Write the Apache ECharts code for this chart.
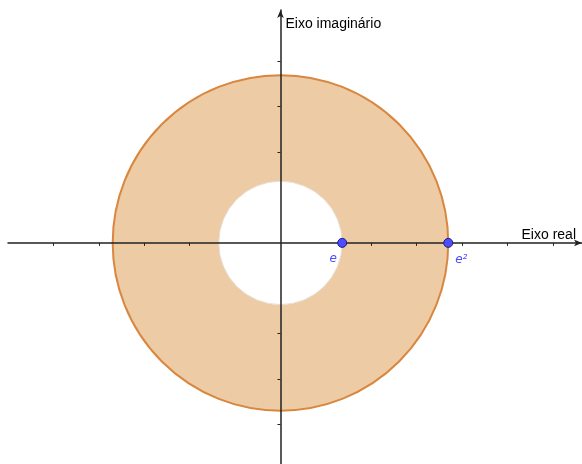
<!DOCTYPE html>
<html lang="pt" style="height: 100%">
<head>
  <meta charset="utf-8">
</head>
<body style="height: 100%; margin: 0; background: #fff">
  <div id="container" style="width: 582px; height: 464px"></div>

  <script type="text/javascript" src="https://fastly.jsdelivr.net/npm/echarts@6/dist/echarts.min.js"></script>

  <script type="text/javascript">
    // annulus e < |z| < e^2 on the complex plane
    var innerR = Math.E;
    var outerR = Math.E * Math.E;
    var ringData = [[0, 0, innerR, outerR]];
    var pointData = [
      { value: [innerR, 0], label: 'e' },
      { value: [outerR, 0], label: 'e²' }
    ];
    var xTicks = [-10, -8, -6, -4, 4, 6, 8, 10, 12];
    var yTicks = [-8, -6, -4, 4, 6, 8];
    var axisNames = ['Eixo real', 'Eixo imaginário'];

    var dom = document.getElementById('container');
    var myChart = echarts.init(dom, null, { renderer: 'canvas' });
    var option;

    var axisColor = '#222';

    option = {
      animation: false,
      grid: { left: 8, right: 0, top: 10, bottom: 0 },
      xAxis: {
        type: 'value',
        min: -12,
        max: 13.28,
        z: 5,
        name: axisNames[0],
        nameLocation: 'end',
        nameGap: -6,
        nameTextStyle: {
          align: 'right',
          verticalAlign: 'bottom',
          fontFamily: 'Liberation Sans',
          fontSize: 14,
          color: '#000',
          padding: [0, 0, 1, 0]
        },
        axisLine: {
          onZero: true,
          lineStyle: { color: axisColor, width: 1.5 },
          symbol: ['none', 'arrow'],
          symbolSize: [5, 8]
        },
        axisTick: {
          show: true,
          length: 3,
          customValues: xTicks,
          lineStyle: { color: axisColor, width: 1 }
        },
        axisLabel: { show: false },
        splitLine: { show: false }
      },
      yAxis: {
        type: 'value',
        min: -9.74,
        max: 10.26,
        z: 5,
        name: axisNames[1],
        nameLocation: 'end',
        nameGap: -14,
        nameTextStyle: {
          align: 'left',
          verticalAlign: 'middle',
          fontFamily: 'Liberation Sans',
          fontSize: 14,
          color: '#000',
          padding: [0, 0, 0, 5]
        },
        axisLine: {
          onZero: true,
          lineStyle: { color: axisColor, width: 1.5 },
          symbol: ['none', 'arrow'],
          symbolSize: [5, 8]
        },
        axisTick: {
          show: true,
          length: 3,
          customValues: yTicks,
          lineStyle: { color: axisColor, width: 1 }
        },
        axisLabel: { show: false },
        splitLine: { show: false }
      },
      series: [
        {
          type: 'custom',
          z: 1,
          data: ringData,
          renderItem: function (params, api) {
            var c = api.coord([api.value(0), api.value(1)]);
            var r0 = api.size([api.value(2), 0])[0];
            var r = api.size([api.value(3), 0])[0];
            return {
              type: 'group',
              children: [
                {
                  type: 'ring',
                  shape: { cx: c[0], cy: c[1], r: r, r0: r0 },
                  style: { fill: '#ecCBA5' }
                },
                {
                  type: 'circle',
                  shape: { cx: c[0], cy: c[1], r: r },
                  style: { fill: null, stroke: '#d9873e', lineWidth: 2 }
                },
                {
                  type: 'circle',
                  shape: { cx: c[0], cy: c[1], r: r0 },
                  style: { fill: null, stroke: '#e6ddd3', lineWidth: 1 }
                }
              ]
            };
          }
        },
        {
          type: 'scatter',
          z: 10,
          symbol: 'circle',
          symbolSize: 9,
          itemStyle: { color: '#4d4dff', borderColor: '#1a1a80', borderWidth: 1, opacity: 1 },
          data: pointData.map(function (p, i) {
            return {
              value: p.value,
              label: {
                show: true,
                formatter: p.label,
                position: 'bottom',
                offset: i === 0 ? [-9, 0] : [13, 1],
                color: '#4d4dff',
                fontStyle: 'italic',
                fontFamily: 'DejaVu Sans',
                fontSize: 12
              }
            };
          })
        }
      ]
    };

    myChart.setOption(option);
    window.addEventListener('resize', myChart.resize);
  </script>
</body>
</html>
